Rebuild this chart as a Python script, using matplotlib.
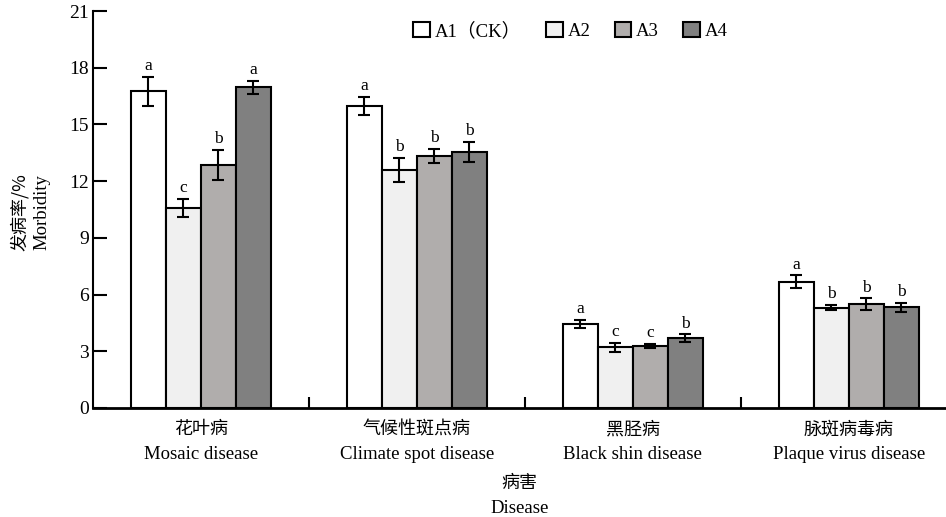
import numpy as np
import matplotlib
matplotlib.use('Agg')
import matplotlib.pyplot as plt
from matplotlib.patches import Patch

plt.rcParams['font.family'] = ['Liberation Serif', 'Noto Sans CJK SC']

# data
diseases_cn = ['花叶病', '气候性斑点病', '黑胫病', '脉斑病毒病']
diseases_en = ['Mosaic disease', 'Climate spot disease', 'Black shin disease', 'Plaque virus disease']
treatments = ['A1（CK）', 'A2', 'A3', 'A4']
colors = ['#ffffff', '#f0f0f0', '#b0adac', '#808080']

A1 = [16.75, 15.98, 4.44, 6.68]
A2 = [10.60, 12.59, 3.21, 5.31]
A3 = [12.84, 13.33, 3.28, 5.50]
A4 = [16.97, 13.56, 3.70, 5.33]
A1_err = [0.75, 0.48, 0.20, 0.33]
A2_err = [0.48, 0.64, 0.24, 0.14]
A3_err = [0.80, 0.38, 0.12, 0.30]
A4_err = [0.35, 0.53, 0.19, 0.25]
letters = [['a', 'a', 'a', 'a'],
           ['c', 'b', 'c', 'b'],
           ['b', 'b', 'c', 'b'],
           ['a', 'b', 'b', 'b']]

values = [A1, A2, A3, A4]
errors = [A1_err, A2_err, A3_err, A4_err]

fig = plt.figure(figsize=(9.46, 5.17), dpi=100)
ax = fig.add_axes([93 / 946, 1 - 408 / 517, 1 - 93 / 946, (408 - 11) / 517])

x = np.arange(len(diseases_cn))
width = 0.162
handles = []
for i in range(4):
    pos = x + (i - 1.5) * width
    ax.bar(pos, values[i], width, color=colors[i], edgecolor='black', linewidth=1.5, zorder=2)
    ax.errorbar(pos, values[i], yerr=errors[i], fmt='none', ecolor='black',
                elinewidth=1.5, capsize=4.5, capthick=1.5, zorder=3)
    for j in range(len(x)):
        ax.text(pos[j], values[i][j] + errors[i][j] + 0.15, letters[i][j],
                ha='center', va='bottom', fontsize=12.5)
    handles.append(Patch(facecolor=colors[i], edgecolor='black', linewidth=1.5, label=treatments[i]))

ax.set_xlim(-0.5, 3.45)
ax.set_ylim(0, 21)
ax.set_yticks(np.arange(0, 22, 3))
ax.tick_params(axis='y', direction='in', length=10, width=1.5, labelsize=14, pad=3)
ax.set_xticks(x)
ax.set_xticklabels([])
ax.tick_params(axis='x', length=0)
ax.set_xticks([0.5, 1.5, 2.5], minor=True)
ax.tick_params(axis='x', which='minor', direction='in', length=8, width=1.5)
for s in ['top', 'right']:
    ax.spines[s].set_visible(False)
ax.spines['left'].set_linewidth(1.5)
ax.spines['bottom'].set_linewidth(2)

for j in range(len(x)):
    ax.text(x[j], -0.65, diseases_cn[j], ha='center', va='top', fontsize=13,
            family=['Noto Sans CJK SC'])
    ax.text(x[j], -2.0, diseases_en[j], ha='center', va='top', fontsize=13.5)

# axis title, centred under the whole x axis
ax.text(1.475, -3.5, '病害', ha='center', va='top', fontsize=13, family=['Noto Sans CJK SC'])
ax.text(1.475, -4.85, 'Disease', ha='center', va='top', fontsize=13.5)

fig.text(20 / 946, 1 - 212 / 517, '发病率/%', rotation=90, ha='center', va='center',
         fontsize=13, family=['Noto Sans CJK SC', 'Liberation Serif'])
fig.text(42 / 946, 1 - 212 / 517, 'Morbidity', rotation=90, ha='center', va='center', fontsize=13.5)

ax.legend(handles=handles, loc='upper center', bbox_to_anchor=(0.56, 1.015), ncol=4,
          frameon=False, handlelength=0.9, handleheight=0.9,
          handletextpad=0.25, columnspacing=1.3,
          prop={'family': ['Liberation Serif', 'Noto Sans CJK SC'], 'size': 13.5})

fig.savefig('out.png', dpi=100)
